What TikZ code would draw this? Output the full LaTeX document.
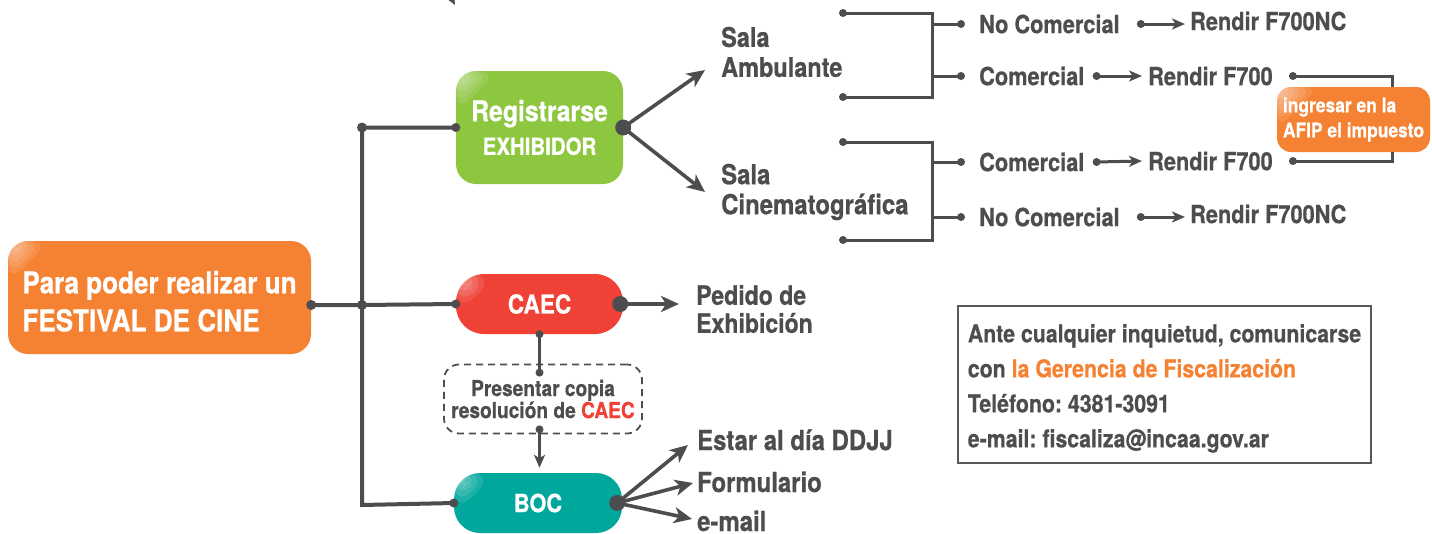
\documentclass[tikz,border=0pt]{standalone}
\usepackage{fontspec}
\setmainfont{TeX Gyre Heros}[FakeStretch=0.87, FakeBold=0.6]
\usetikzlibrary{arrows.meta}
\definecolor{ink}{HTML}{4D4D4F}
\definecolor{festorange}{HTML}{F58233}
\definecolor{regreen}{HTML}{8DC63F}
\definecolor{caecred}{HTML}{EF4136}
\definecolor{bocteal}{HTML}{00A79D}
\definecolor{framegray}{HTML}{58585A}
\frenchspacing

\begin{document}
\begin{tikzpicture}[x=1pt,y=-1pt,
  every node/.style={font=\bfseries, text=ink},
  sz/.style 2 args={font=\bfseries\fontsize{#1}{#2}\selectfont},
  link/.style={line width=4pt, draw=ink},
  brk/.style={line width=3pt, draw=ink},
  arr/.style={line width=3.6pt, draw=ink, -{Stealth[length=18pt,width=16pt,inset=5pt]}},
  sarr/.style={line width=3pt, draw=ink, -{Stealth[length=13pt,width=11pt,inset=3.5pt]}},
  gloss/.style={path picture={
      \foreach \s in {6,12,...,42}
        \fill[white, opacity=0.11] (path picture bounding box.north west) -- ++(\s,0) -- ++(-\s,\s) -- cycle;}},
  box/.style={gloss, rounded corners=#1, text=white, inner sep=0, align=center},
  box/.default=20,
  txt/.style={anchor=west, inner sep=0, align=left},
  note/.style={draw=ink, line width=1.8pt, dash pattern=on 7pt off 5pt, rounded corners=15, inner sep=0, align=center},
]
\useasboundingbox (0,0) rectangle (1432,533);
\clip (0,0) rectangle (1432,533);

% coloured boxes
\node[box=20, fill=festorange, minimum width=303, minimum height=113, align=left, sz={30}{38}] (fest) at (159.5,297.5) {\rule{0pt}{30pt}Para poder realizar un\\FESTIVAL DE CINE};
\node[box=20, fill=regreen, minimum width=167, minimum height=113] (reg) at (539.5,127.5)
  {\fontsize{28.5}{32}\selectfont Registrarse\\[9pt]\fontsize{23.5}{28}\selectfont EXHIBIDOR};
\node[box=28, fill=caecred, minimum width=167, minimum height=60, sz={26}{30}] (caec) at (539.5,304) {CAEC};
\node[box=26, fill=bocteal, minimum width=168, minimum height=60, sz={25}{30}] (boc) at (538,503) {BOC};
\node[note, minimum width=198, minimum height=69, sz={22}{22}] (copia) at (543,399) {Presentar copia\\resolución de \textcolor{caecred}{CAEC}};
\node[box=14, fill=festorange, minimum width=153, minimum height=65, align=left, sz={20}{25}] (afip) at (1353.5,119.5) {ingresar en la\\AFIP el impuesto};
\node[draw=framegray, line width=2.2pt, minimum width=413, minimum height=157, inner sep=0, align=left, sz={24.5}{35}] (info) at (1164.5,384.5)
  {\rule{0pt}{26pt}Ante cualquier inquietud, comunicarse\\con \textcolor{festorange}{la Gerencia de Fiscalización}\\Teléfono: 4381-3091\\e-mail: fiscaliza@incaa.gov.ar};

% plain labels
\node[txt, sz={27}{30}] (sa) at (721,52) {Sala\\Ambulante};
\node[txt, sz={27.5}{30}] (sc) at (721,192) {Sala\\Cinematográfica};
\node[txt, sz={25}{30}] (nc1) at (979,24) {No Comercial};
\node[txt, sz={25}{30}] (c1) at (979,76) {Comercial};
\node[txt, sz={25}{30}] (c2) at (979,162) {Comercial};
\node[txt, sz={25}{30}] (nc2) at (979,217) {No Comercial};
\node[txt, sz={25}{30}] (r1) at (1190,21) {Rendir F700NC};
\node[txt, sz={25}{30}] (r2) at (1148,76) {Rendir F700};
\node[txt, sz={25}{30}] (r3) at (1148,161) {Rendir F700};
\node[txt, sz={25}{30}] (r4) at (1190,214) {Rendir F700NC};
\node[txt, sz={26.5}{28}] (pe) at (696,309) {Pedido de\\Exhibición};
\node[txt, anchor=base west, sz={27.5}{30}] (es) at (697,450) {Estar al día DDJJ};
\node[txt, anchor=base west, sz={27.5}{30}] (fo) at (697,492) {Formulario};
\node[txt, anchor=base west, sz={27.5}{30}] (em) at (697,531) {e-mail};

\coordinate (hub) at (362,305);
\coordinate (jbot) at (362,505);
\coordinate (xa) at (932,0);
\coordinate (xr) at (1392,0);
\coordinate (sat) at (843,13);
\coordinate (sab) at (843,97);
\coordinate (sct) at (843,142);
\coordinate (scb) at (843,240);
\coordinate (frag) at (436,-30);
\coordinate (fragtip) at (455,5);

% trunk
\draw[link] (fest.east |- hub) -- (hub) -- (caec.west);
\draw[link] (reg.west) -| (jbot) -- (boc.west);
\fill[ink] (fest.east |- hub) circle (5) (hub) circle (5) (reg.west -| hub) circle (5);
\fill[ink] (reg.west) circle (4.5) (caec.west) circle (4.5) (boc.west) circle (4.5);
\draw[arr] (frag) -- (fragtip);

% exhibidor
\draw[arr] (reg.east) -- ([xshift=-16,yshift=-18]sa.west);
\draw[arr] (reg.east) -- ([xshift=-16]sc.west);
\fill[ink] (reg.east) circle (8);

\draw[brk] (sat) -- (sat -| xa) -- (sab -| xa) -- (sab);
\draw[brk] (sct) -- (sct -| xa) -- (scb -| xa) -- (scb);
\fill[ink] (sat) circle (4) (sab) circle (4) (sct) circle (4) (scb) circle (4);
\foreach \n in {nc1,c1,c2,nc2} {
  \draw[brk] (\n.west -| xa) -- ([xshift=-18]\n.west);
  \fill[ink] ([xshift=-18]\n.west) circle (4);
}

\draw[sarr] ([xshift=21]nc1.east) -- ([xshift=-5]r1.west |- nc1.east);
\draw[sarr] ([xshift=12]c1.east) -- ([xshift=-6]r2.west);
\draw[sarr] ([xshift=12]c2.east) -- ([xshift=-6]r3.west);
\draw[sarr] ([xshift=21]nc2.east) -- ([xshift=-5]r4.west |- nc2.east);
\fill[ink] ([xshift=21]nc1.east) circle (4) ([xshift=12]c1.east) circle (4)
  ([xshift=12]c2.east) circle (4) ([xshift=21]nc2.east) circle (4);

\draw[brk] ([xshift=20]r2.east) -- (r2.east -| xr) -- (afip.north -| xr);
\draw[brk] ([xshift=20]r3.east) -- (r3.east -| xr) -- (afip.south -| xr);
\fill[ink] ([xshift=20]r2.east) circle (4) ([xshift=20]r3.east) circle (4);

% caec
\draw[arr] ([xshift=-3]caec.east) -- ([xshift=-17]pe.west |- caec.east);
\fill[ink] ([xshift=-3]caec.east) circle (8);
\draw[link, line width=3.2pt] (caec.south) -- ([yshift=-9]copia.north -| caec.south);
\fill[ink] (caec.south) circle (4) ([yshift=-9]copia.north -| caec.south) circle (4);
\draw[sarr, line width=3.2pt] ([yshift=5]copia.south -| caec.south) -- ([yshift=5]boc.north -| caec.south);
\fill[ink] ([yshift=5]copia.south -| caec.south) circle (4);

% boc
\draw[arr] ([xshift=-5]boc.east) -- ([xshift=-9,yshift=5]es.base west);
\draw[arr] ([xshift=-5]boc.east) -- ([xshift=-4,yshift=9]fo.base west);
\draw[arr] ([xshift=-5]boc.east) -- ([xshift=-5,yshift=12]em.base west);
\fill[ink] ([xshift=-5]boc.east) circle (8);
\end{tikzpicture}
\end{document}
